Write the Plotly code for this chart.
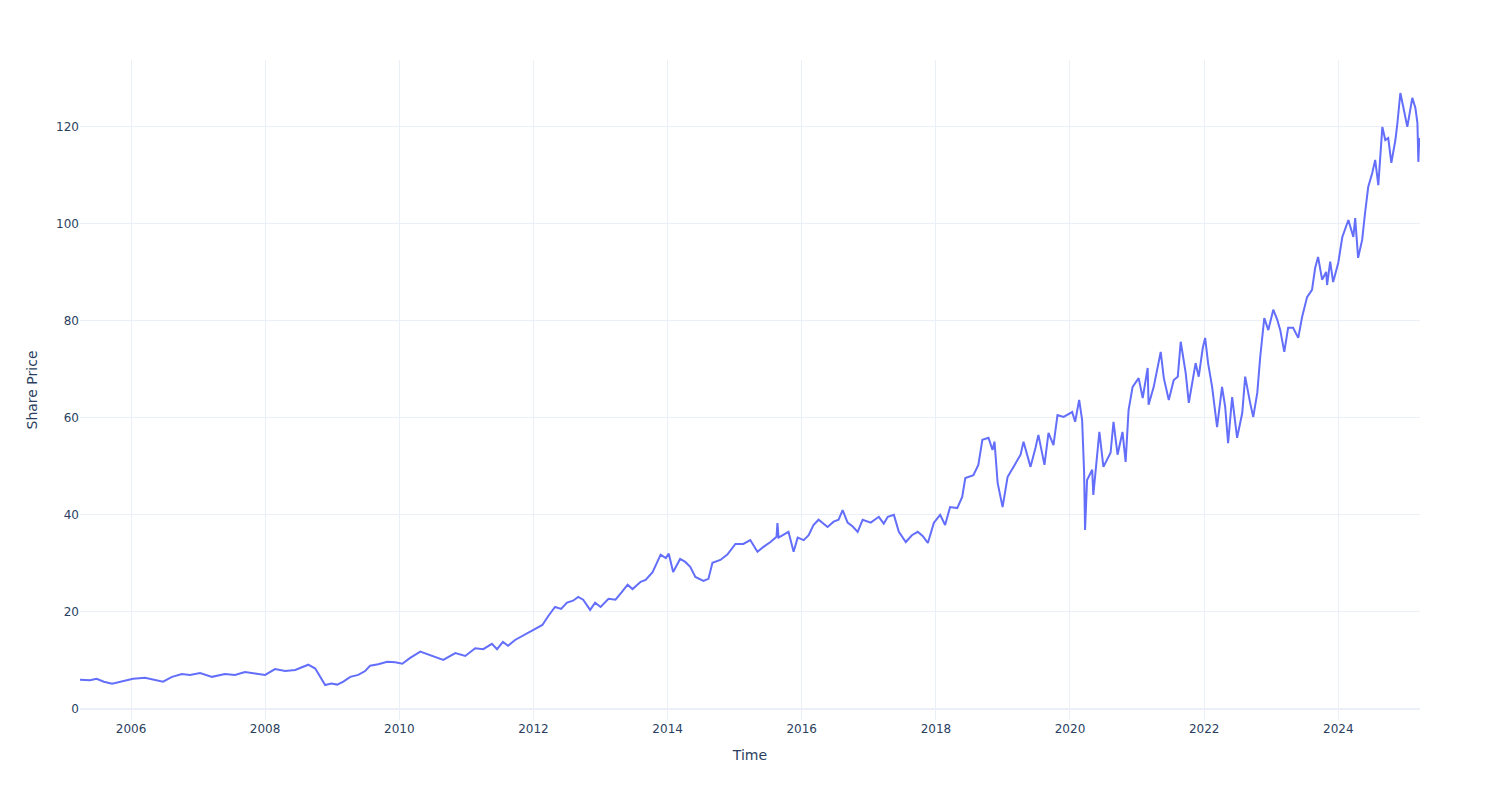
import plotly.graph_objects as go

dates = [
    "2005-03-29", "2005-05-22", "2005-06-28", "2005-08-06", "2005-09-20", "2005-11-03",
    "2006-01-12", "2006-03-18", "2006-05-11", "2006-06-24", "2006-08-12", "2006-10-05", "2006-11-18",
    "2007-01-12", "2007-03-18", "2007-05-27", "2007-07-21", "2007-09-13", "2007-11-07",
    "2008-01-01", "2008-02-24", "2008-04-19", "2008-06-13", "2008-07-21", "2008-08-23", "2008-09-30",
    "2008-10-27", "2008-11-23", "2008-12-26",
    "2009-01-28", "2009-03-02", "2009-04-09", "2009-05-22", "2009-06-29", "2009-07-26", "2009-09-08",
    "2009-10-27", "2009-12-10",
    "2010-01-17", "2010-03-01", "2010-04-25", "2010-06-18", "2010-07-26", "2010-08-28", "2010-11-02",
    "2010-12-26",
    "2011-02-18", "2011-04-03", "2011-05-20", "2011-06-17", "2011-07-19", "2011-08-16", "2011-09-23",
    "2011-10-21", "2011-11-23",
    "2012-01-01", "2012-02-19", "2012-03-23", "2012-04-28", "2012-05-31", "2012-07-02", "2012-08-04",
    "2012-09-01", "2012-09-28", "2012-11-05", "2012-12-02",
    "2013-01-01", "2013-02-13", "2013-03-23", "2013-04-25", "2013-05-28", "2013-06-24", "2013-08-07",
    "2013-09-03", "2013-10-11", "2013-11-02", "2013-11-24", "2013-12-22",
    "2014-01-07", "2014-01-31", "2014-03-10", "2014-04-07", "2014-05-04", "2014-06-01", "2014-07-15",
    "2014-08-11", "2014-09-02", "2014-10-15", "2014-11-22",
    "2015-01-05", "2015-02-17", "2015-03-27", "2015-05-05", "2015-06-07", "2015-07-15", "2015-08-17",
    "2015-08-22", "2015-08-28", "2015-10-21", "2015-11-18", "2015-12-10",
    "2016-01-12", "2016-02-08", "2016-03-05", "2016-04-02", "2016-05-21", "2016-06-23", "2016-07-20",
    "2016-08-11", "2016-09-07", "2016-10-05", "2016-11-01", "2016-11-28",
    "2017-01-11", "2017-02-24", "2017-03-23", "2017-04-14", "2017-05-17", "2017-06-13", "2017-07-21",
    "2017-08-23", "2017-09-24", "2017-10-22", "2017-11-18", "2017-12-21",
    "2018-01-24", "2018-02-20", "2018-03-19", "2018-04-27", "2018-05-24", "2018-06-10", "2018-07-24",
    "2018-08-20", "2018-09-11", "2018-10-14", "2018-11-05", "2018-11-16", "2018-12-03", "2018-12-30",
    "2019-01-26", "2019-02-28", "2019-04-07", "2019-04-23", "2019-05-31", "2019-06-27", "2019-07-13",
    "2019-08-15", "2019-09-06", "2019-10-03", "2019-10-25", "2019-11-27",
    "2020-01-13", "2020-01-29", "2020-02-20", "2020-03-07", "2020-03-18", "2020-03-23", "2020-04-03",
    "2020-05-01", "2020-05-07", "2020-06-09", "2020-07-01", "2020-08-09", "2020-08-25", "2020-09-16",
    "2020-10-13", "2020-10-30", "2020-11-15", "2020-12-07",
    "2021-01-09", "2021-01-31", "2021-02-27", "2021-03-04", "2021-04-01", "2021-05-09", "2021-05-26",
    "2021-06-22", "2021-07-19", "2021-08-10", "2021-08-26", "2021-09-22", "2021-10-09", "2021-11-15",
    "2021-12-02", "2021-12-24",
    "2022-01-06", "2022-01-22", "2022-02-13", "2022-03-12", "2022-04-08", "2022-04-25", "2022-05-11",
    "2022-06-02", "2022-06-29", "2022-07-27", "2022-08-12", "2022-09-08", "2022-09-25", "2022-10-17",
    "2022-11-02", "2022-11-24", "2022-12-16",
    "2023-01-12", "2023-02-03", "2023-02-19", "2023-03-13", "2023-04-03", "2023-04-30", "2023-05-28",
    "2023-06-18", "2023-07-15", "2023-08-11", "2023-08-28", "2023-09-13", "2023-10-05", "2023-10-27",
    "2023-11-01", "2023-11-18", "2023-12-04",
    "2024-01-01", "2024-01-23", "2024-02-25", "2024-03-23", "2024-04-02", "2024-04-18", "2024-05-10",
    "2024-05-26", "2024-06-12", "2024-07-04", "2024-07-20", "2024-08-06", "2024-08-28", "2024-09-13",
    "2024-09-29", "2024-10-16", "2024-11-07", "2024-11-18", "2024-12-04", "2024-12-20",
    "2025-01-11", "2025-02-07", "2025-02-24", "2025-03-07", "2025-03-12", "2025-03-17", "2025-03-21",
]

prices = [
    6.0, 5.9, 6.2, 5.6, 5.2, 5.6,
    6.2, 6.4, 6.0, 5.6, 6.6, 7.2, 7.0,
    7.4, 6.6, 7.2, 7.0, 7.6, 7.3,
    7.0, 8.2, 7.8, 8.0, 8.6, 9.1, 8.3,
    6.6, 4.9, 5.2,
    5.0, 5.6, 6.6, 7.0, 7.8, 8.9, 9.2,
    9.7, 9.6,
    9.3, 10.5, 11.8, 11.1, 10.5, 10.1, 11.5,
    10.9,
    12.5, 12.3, 13.4, 12.3, 13.8, 13.0, 14.2,
    14.8, 15.5,
    16.2, 17.3, 19.2, 21.0, 20.6, 21.9, 22.3,
    23.1, 22.5, 20.4, 21.9,
    21.0, 22.7, 22.5, 24.0, 25.6, 24.7, 26.2,
    26.6, 28.2, 30.0, 31.8, 31.1,
    32.0, 28.2, 30.9, 30.3, 29.3, 27.2, 26.4,
    26.8, 30.1, 30.7, 31.8,
    34.0, 34.0, 34.8, 32.4, 33.4, 34.4, 35.5,
    38.3, 35.3, 36.5, 32.4, 35.3,
    34.8, 35.8, 37.9, 39.0, 37.5, 38.6, 39.0,
    41.0, 38.4, 37.6, 36.5, 39.0,
    38.4, 39.6, 38.2, 39.6, 40.0, 36.5, 34.4,
    35.8, 36.5, 35.6, 34.2, 38.4,
    40.0, 37.9, 41.6, 41.4, 43.7, 47.6, 48.2,
    50.3, 55.5, 55.9, 53.4, 55.1, 46.6, 41.6,
    47.8, 49.9, 52.4, 55.1, 49.9, 53.8, 56.5,
    50.3, 56.9, 54.4, 60.6, 60.2,
    61.2, 59.2, 63.7, 59.6, 48.7, 36.9, 47.2,
    49.3, 44.1, 57.1, 49.9, 52.8, 59.2, 52.4,
    57.1, 50.9, 61.6, 66.4,
    68.2, 64.1, 70.3, 62.7, 66.4, 73.6, 68.2,
    63.7, 67.8, 68.5, 75.7, 69.3, 63.1, 71.3,
    68.5, 74.4,
    76.5, 71.3, 66.4, 58.1, 66.4, 62.3, 54.8,
    64.3, 55.9, 61.0, 68.5, 63.1, 60.2, 65.2,
    72.6, 80.6, 78.1,
    82.3, 80.2, 78.1, 73.6, 78.6, 78.6, 76.5,
    80.8, 84.9, 86.4, 90.9, 93.2, 88.5, 90.1,
    87.4, 92.2, 88.0,
    92.0, 97.3, 100.8, 97.3, 101.2, 93.0, 96.7,
    102.3, 107.6, 110.5, 113.2, 108.0, 120.0, 117.3,
    117.7, 112.6, 117.3, 120.8, 127.0, 124.1,
    120.0, 126.0, 123.9, 120.8, 112.8, 117.7, 116.5,
]

x_title = "Time"
y_title = "Share Price"

fig = go.Figure(
    go.Scatter(
        x=dates,
        y=prices,
        mode="lines",
        line=dict(color="#636efa", width=2),
        showlegend=False,
    )
)

fig.update_layout(
    template="plotly_white",
    width=1500,
    height=800,
    font=dict(family="DejaVu Sans", size=12, color="#2a3f5f"),
    margin=dict(l=80, r=80, t=60, b=80),
    xaxis=dict(title=dict(text=x_title), dtick="M24", tick0="2006-01-01", tickformat="%Y"),
    yaxis=dict(title=dict(text=y_title), range=[-2.3, 133.8], dtick=20),
)

fig.write_html("out.html")
